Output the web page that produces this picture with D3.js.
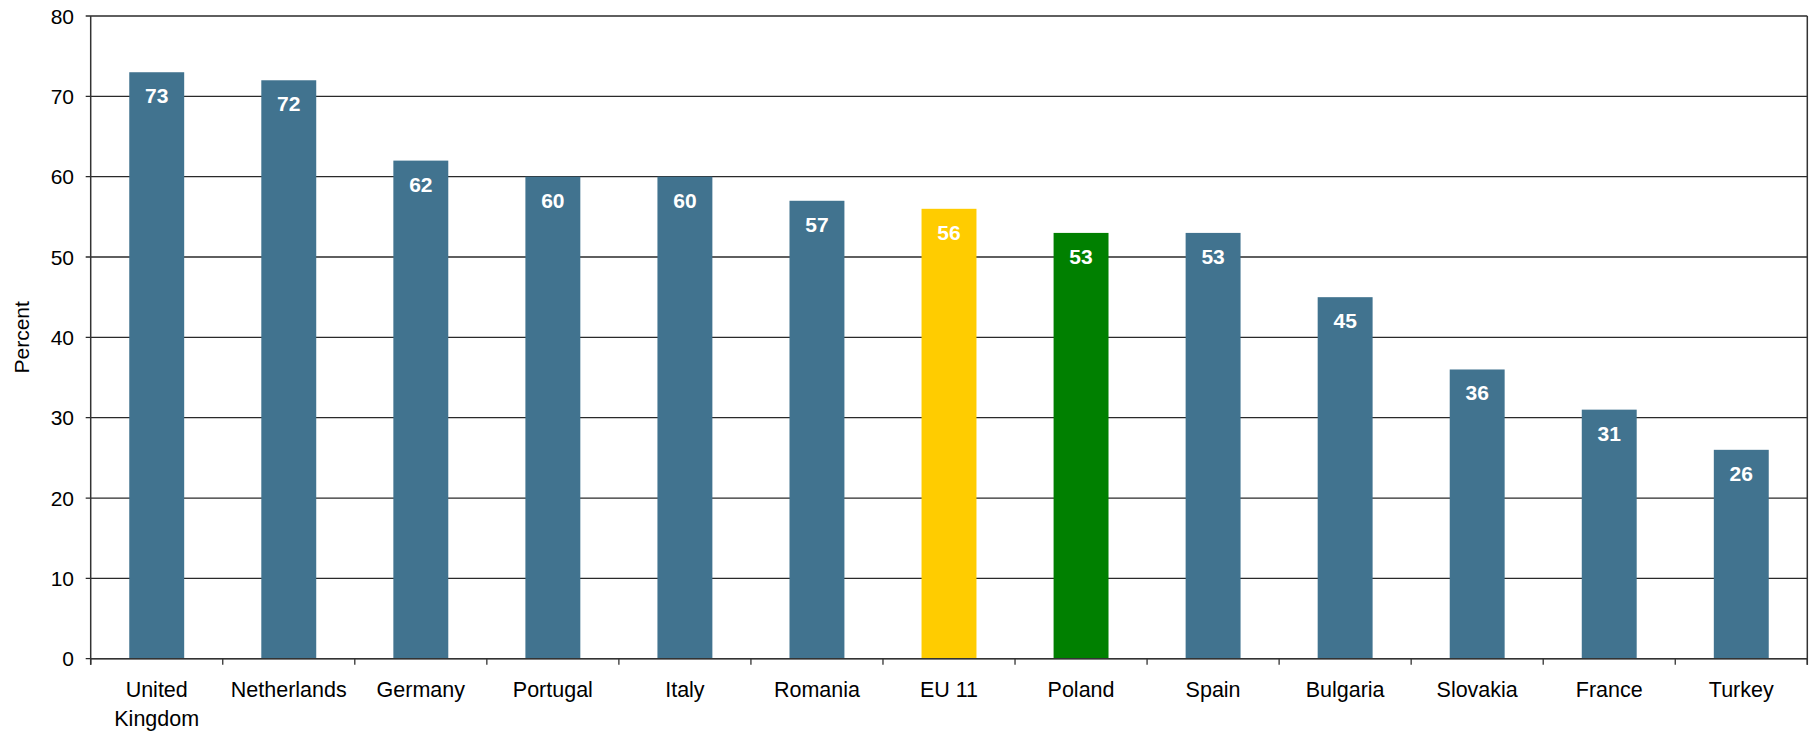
<!DOCTYPE html>
<html>
<head>
<meta charset="utf-8">
<script src="https://cdn.jsdelivr.net/npm/d3@7"></script>
<style>
  html, body { margin: 0; padding: 0; background: #fff; }
  svg { display: block; font-family: "Liberation Sans", Arial, sans-serif; }
</style>
</head>
<body>
<svg id="chart" width="1812" height="734"></svg>
<script>
const categories = ["United\nKingdom", "Netherlands", "Germany", "Portugal", "Italy", "Romania", "EU 11", "Poland", "Spain", "Bulgaria", "Slovakia", "France", "Turkey"];
const values = [73, 72, 62, 60, 60, 57, 56, 53, 53, 45, 36, 31, 26];
const barColors = ["#41738F", "#41738F", "#41738F", "#41738F", "#41738F", "#41738F", "#FFCC00", "#008000", "#41738F", "#41738F", "#41738F", "#41738F", "#41738F"];
const yTicks = [0, 10, 20, 30, 40, 50, 60, 70, 80];
const yLabel = "Percent";

const W = 1812, H = 734;
const m = { left: 90.7, right: 1807.3, top: 16, bottom: 658.7 };

const svg = d3.select("#chart");

const x = d3.scaleBand().domain(categories).range([m.left, m.right]).paddingInner(0.584).paddingOuter(0.292);
const y = d3.scaleLinear().domain([0, 80]).range([m.bottom, m.top]);

// gridlines
svg.append("g").selectAll("line").data(yTicks).join("line")
  .attr("x1", m.left - 5).attr("x2", m.right)
  .attr("y1", d => y(d)).attr("y2", d => y(d))
  .attr("stroke", "#2a2a2a").attr("stroke-width", 1.3);

// bars
svg.append("g").selectAll("rect").data(values).join("rect")
  .attr("x", (d, i) => x(categories[i]))
  .attr("width", x.bandwidth())
  .attr("y", d => y(d))
  .attr("height", d => y(0) - y(d))
  .attr("fill", (d, i) => barColors[i]);

// value labels
svg.append("g").selectAll("text").data(values).join("text")
  .attr("x", (d, i) => x(categories[i]) + x.bandwidth() / 2)
  .attr("y", d => y(d) + 31)
  .attr("text-anchor", "middle")
  .attr("fill", "#fff")
  .attr("font-weight", "bold")
  .attr("font-size", "21px")
  .text(d => d);

// axes lines
svg.append("line").attr("x1", m.left).attr("x2", m.left).attr("y1", m.top).attr("y2", m.bottom + 6)
  .attr("stroke", "#333").attr("stroke-width", 1.5);
svg.append("line").attr("x1", m.right).attr("x2", m.right).attr("y1", m.top).attr("y2", m.bottom + 6)
  .attr("stroke", "#333").attr("stroke-width", 1.5);
svg.append("line").attr("x1", m.left).attr("x2", m.right).attr("y1", m.bottom).attr("y2", m.bottom)
  .attr("stroke", "#333").attr("stroke-width", 1.5);

// x ticks at band boundaries
const step = x.step();
const bounds = d3.range(categories.length + 1).map(i => m.left + i * step);
svg.append("g").selectAll("line").data(bounds).join("line")
  .attr("x1", d => d).attr("x2", d => d)
  .attr("y1", m.bottom).attr("y2", m.bottom + 6)
  .attr("stroke", "#333").attr("stroke-width", 1.3);

// y tick labels
svg.append("g").selectAll("text").data(yTicks).join("text")
  .attr("x", 74)
  .attr("y", d => y(d))
  .attr("dy", "0.36em")
  .attr("text-anchor", "end")
  .attr("font-size", "21px")
  .attr("fill", "#000")
  .text(d => d);

// x category labels
const xl = svg.append("g").selectAll("text").data(categories).join("text")
  .attr("x", d => x(d) + x.bandwidth() / 2)
  .attr("y", 697)
  .attr("text-anchor", "middle")
  .attr("font-size", "21.5px")
  .attr("fill", "#000");
xl.each(function(d) {
  const lines = d.split("\n");
  const t = d3.select(this);
  lines.forEach((ln, i) => {
    t.append("tspan").attr("x", t.attr("x")).attr("dy", i === 0 ? 0 : 29).text(ln);
  });
});

// y axis title
svg.append("text")
  .attr("transform", `translate(29, ${(m.top + m.bottom) / 2}) rotate(-90)`)
  .attr("text-anchor", "middle")
  .attr("font-size", "21px")
  .attr("fill", "#000")
  .text(yLabel);
</script>
</body>
</html>
